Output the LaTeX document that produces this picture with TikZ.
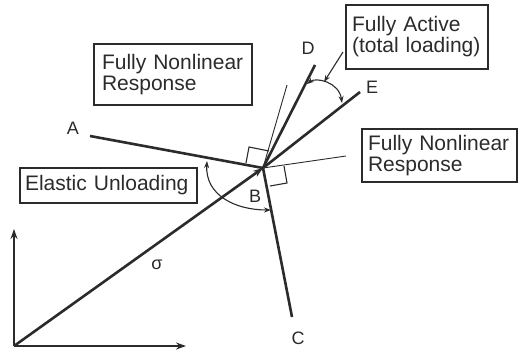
\documentclass[tikz,border=0pt]{standalone}
\usepackage{fontspec}
\setmainfont{Liberation Sans}
\usetikzlibrary{arrows.meta}
\definecolor{ink}{HTML}{2B2B2B}
\begin{document}
\begin{tikzpicture}[x=1pt,y=-1pt,
  mainline/.style={draw=ink, line width=2.6pt},
  thinline/.style={draw=ink, line width=0.9pt},
  arcline/.style={draw=ink, line width=1.1pt, {Stealth[length=7pt,width=5pt]}-{Stealth[length=7pt,width=5pt]}},
  bigtip/.style={-{Stealth[length=10pt,width=7pt]}},
  box/.style={draw=ink, line width=1.1pt, rectangle, align=left, text=ink,
    font=\fontsize{21}{21}\selectfont},
  lbl/.style={text=ink, font=\fontsize{18}{18}\selectfont, inner sep=0pt}]
\useasboundingbox (0,0) rectangle (518,353);
% key points
\coordinate (O) at (14,346);
\coordinate (P) at (263,168);
\coordinate (Aend) at (90,136);
\coordinate (Cend) at (292,317);
\coordinate (Dend) at (315,65);
\coordinate (Eend) at (360,92);
\coordinate (Tup) at (287,85);
\coordinate (Tright) at (346,156);
\coordinate (Ytip) at (14,229);
\coordinate (Xtip) at (186,346);
% axes
\draw[mainline, line width=2pt, bigtip] (O) -- (Ytip);
\draw[mainline, line width=2pt, bigtip] (O) -- (Xtip);
% stress vector
\draw[mainline, bigtip] (O) -- (P);
% loading directions
\draw[mainline] (P) -- (Aend);
\draw[mainline] (P) -- (Cend);
\draw[mainline] (P) -- (Dend);
\draw[mainline] (P) -- (Eend);
\draw[thinline] (P) -- (Tup);
\draw[thinline] (P) -- (Tright);
% right-angle markers
\draw[thinline, line width=1.1pt] (246,163) -- (249,147) -- (269,151);
\draw[thinline, line width=1.1pt] (284,166) -- (287,183) -- (270,186);
% arcs
\coordinate (a1) at (207,161);
\coordinate (a2) at (271,210);
\draw[arcline] (a1) .. controls (205,195) and (235,210) .. (a2);
\coordinate (d1) at (307,84);
\coordinate (e1) at (342,103);
\draw[arcline] (d1) .. controls (316,77) and (339,82) .. (e1);
% boxes
\node[box, text width=142pt, inner xsep=8pt, minimum height=61pt] (fnl1) at (173,74.5)
  {Fully Nonlinear\\Response};
\node[box, text width=167pt, inner xsep=5pt, minimum height=35pt] (elu) at (108.5,185.5)
  {Elastic Unloading};
\node[box, text width=130pt, inner xsep=6pt, minimum height=64pt] (fa) at (417,37)
  {Fully Active\\(total loading)};
\node[box, text width=143pt, inner xsep=6pt, minimum height=53pt] (fnl2) at (439.5,155.5)
  {Fully Nonlinear\\Response};
% pointer from Fully Active box to arc
\coordinate (fastart) at (343,52);
\coordinate (faend) at (324,82);
\draw[draw=ink, line width=1.1pt, -{Stealth[length=7pt,width=5pt]}] (fastart) -- (faend);
% labels
\node[lbl] (labA) at (73,128) {A};
\node[lbl] (labB) at (255,196) {B};
\node[lbl] (labC) at (298,338) {C};
\node[lbl] (labD) at (308,48) {D};
\node[lbl] (labE) at (372,87) {E};
\node[lbl] (labS) at (157,265) {σ};
\end{tikzpicture}
\end{document}
